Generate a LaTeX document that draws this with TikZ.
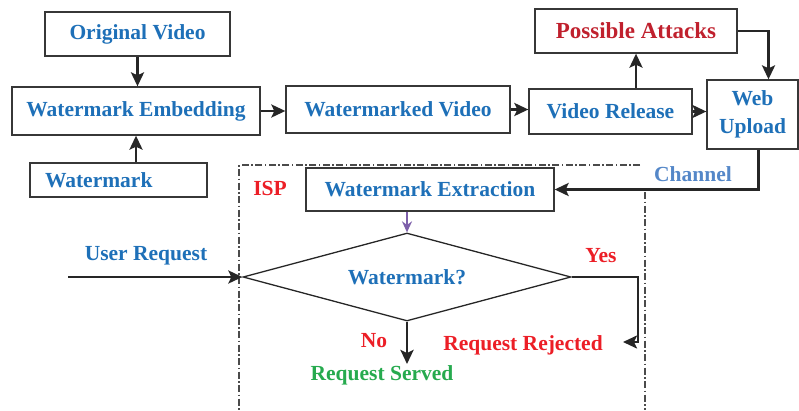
\documentclass[tikz,border=0pt]{standalone}
\usepackage{fontspec}
\setmainfont{Liberation Serif}
\usetikzlibrary{arrows.meta,shapes.geometric}

\definecolor{wmblue}{RGB}{30,112,184}
\definecolor{chblue}{RGB}{84,135,200}
\definecolor{atkred}{RGB}{192,32,45}
\definecolor{ispred}{RGB}{236,30,38}
\definecolor{okgreen}{RGB}{38,170,78}
\definecolor{boxline}{RGB}{55,55,55}
\definecolor{wmpurple}{RGB}{125,95,170}

\tikzset{
  block/.style={draw=boxline, line width=1.3pt, fill=white, text=wmblue,
    font=\fontsize{21.5}{28}\selectfont\bfseries, inner sep=0pt, align=center},
  flow/.style={line width=2.8pt, draw=black!85,
    -{Stealth[length=14pt,width=13pt,inset=3pt]}},
  lbl/.style={font=\fontsize{21.5}{24}\selectfont\bfseries, inner sep=0pt},
  ispframe/.style={boxline!90, line width=1.1pt,
    dash pattern=on 7pt off 2.5pt on 1.5pt off 2.5pt},
}

\begin{document}
\begin{tikzpicture}[x=1pt,y=-1pt]
  \useasboundingbox (0,0) rectangle (799,410);

  % ISP frame (dash-dot, open at the top right)
  \draw[ispframe] (640,165) -- (239,165) -- (239,410);
  \draw[ispframe] (645,192) -- (645,410);

  % embedding side
  \node[block, minimum width=185pt, minimum height=44pt] (orig) at (137.5,34) {Original Video};
  \node[block, minimum width=248pt, minimum height=48pt] (embed) at (136,111) {Watermark Embedding};
  \node[block, minimum width=177pt, minimum height=34pt, inner xsep=15pt,
        text width=147pt, align=left] (wmark) at (118.5,180) {Watermark};
  \node[block, minimum width=224pt, minimum height=47pt] (wmvid) at (398,109.5) {Watermarked Video};
  \node[block, minimum width=163pt, minimum height=45pt] (release) at (610.5,111.5) {Video Release};
  \node[block, minimum width=202pt, minimum height=44pt, text=atkred,
        font=\fontsize{23}{28}\selectfont\bfseries] (attacks) at (636,31) {Possible Attacks};
  \node[block, minimum width=91pt, minimum height=69pt] (upload) at (752.5,114.5) {Web\\Upload};

  % ISP side
  \node[block, minimum width=248pt, minimum height=43pt] (extract) at (430,189.5) {Watermark Extraction};
  \node[draw=black!85, line width=1.3pt, diamond, aspect=3.7, inner sep=0pt,
        minimum width=328pt, minimum height=88pt, text=wmblue,
        font=\fontsize{21.5}{24}\selectfont\bfseries] (check) at (407,277) {Watermark?};

  \coordinate (req) at (68,277);
  \coordinate (yesbend) at (638,277);
  \coordinate (rej) at (623,342);
  \coordinate (served) at (407,364);

  % connectors
  \draw[flow] (orig.south) -- (orig.south |- embed.north);
  \draw[flow] (embed.south |- wmark.north) -- (embed.south);
  \draw[flow] (embed.east) -- (embed.east -| wmvid.west);
  \draw[flow] (wmvid.east) -- (wmvid.east -| release.west);
  \draw[flow] (attacks.south |- release.north) -- (attacks.south);
  \draw[flow] (release.east) -- (release.east -| upload.west);
  \draw[flow] (attacks.east) -| ([xshift=16pt]upload.north);
  \draw[flow] ([xshift=6pt]upload.south) |- (extract.east);
  \draw[line width=1.5pt, draw=wmpurple, -{Stealth[length=11pt,width=10pt]}]
    (check.north |- extract.south) -- (check.north);
  \draw[flow] (req) -- (check.west);
  \draw[flow, line width=2.2pt] (check.east) -- (yesbend) |- (rej);
  \draw[flow] (check.south) -- (served);

  % labels
  \node[lbl, text=wmblue] (reqlbl) at (146,256) {User Request};
  \node[lbl, text=ispred] (isplbl) at (270,188) {ISP};
  \node[lbl, text=chblue] (chlbl) at (693,174) {Channel};
  \node[lbl, text=ispred] (yeslbl) at (601,256) {Yes};
  \node[lbl, text=ispred] (nolbl) at (374,341) {No};
  \node[lbl, text=ispred] (rejlbl) at (523,345) {Request Rejected};
  \node[lbl, text=okgreen] (servlbl) at (382,375) {Request Served};
\end{tikzpicture}
\end{document}
